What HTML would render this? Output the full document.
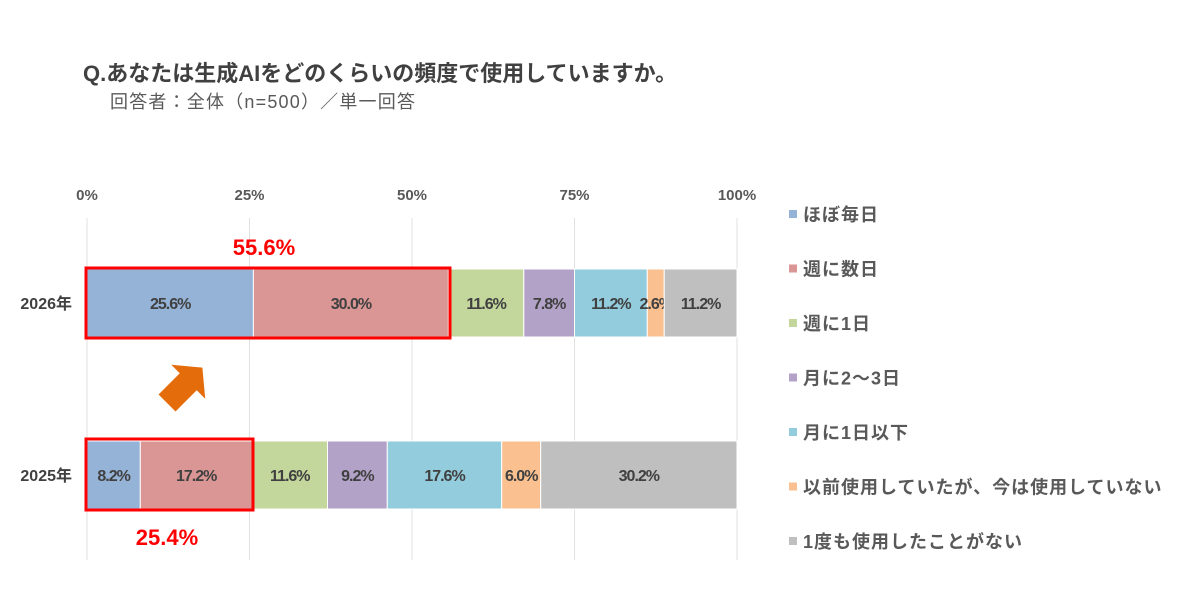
<!DOCTYPE html>
<html><head><meta charset="utf-8"><style>
body{margin:0;background:#fff;}
svg text{font-family:"Liberation Sans","Noto Sans CJK JP",sans-serif;}
</style></head><body>
<svg width="1200" height="600" viewBox="0 0 1200 600">
<text x="83" y="81" font-size="22" font-weight="bold" fill="#404040">Q.あなたは生成AIをどのくらいの頻度で使用していますか。</text>
<text x="110" y="108" font-size="18" letter-spacing="1.2" fill="#595959">回答者：全体（n=500）／単一回答</text>
<g id="grid"></g><g id="bars"></g><g id="legend"></g>
<rect x="86" y="268" width="364" height="70" fill="none" stroke="#f00" stroke-width="3"/>
<rect x="86" y="439" width="167" height="71" fill="none" stroke="#f00" stroke-width="3"/>
<text x="264" y="255" font-size="22" font-weight="bold" fill="#f00" text-anchor="middle">55.6%</text>
<text x="167" y="545" font-size="22" font-weight="bold" fill="#f00" text-anchor="middle">25.4%</text>
<polygon points="-24,-12 6,-12 6,-24 26,0 6,24 6,12 -24,12" fill="#e46c0a" transform="translate(184,386) rotate(-45)"/>
</svg>
<script>
const categories=["2026年","2025年"];
const seriesNames=["ほぼ毎日","週に数日","週に1日","月に2〜3日","月に1日以下","以前使用していたが、今は使用していない","1度も使用したことがない"];
const values2026=[25.6,30.0,11.6,7.8,11.2,2.6,11.2];
const values2025=[8.2,17.2,11.6,9.2,17.6,6.0,30.2];
const ticks=[0,25,50,75,100];
const colors=["#95b3d7","#d99694","#c3d69b","#b3a2c7","#93cddd","#fac090","#bfbfbf"];
const NS="http://www.w3.org/2000/svg";
const x=v=>87+v*6.5;
const rowY=[269,441],bh=68;
function mk(t,a,p){const e=document.createElementNS(NS,t);for(const k in a)e.setAttribute(k,a[k]);p.appendChild(e);return e;}
const grid=document.getElementById('grid');
ticks.forEach(t=>{
 const l=mk('line',{x1:x(t),x2:x(t),y1:218,y2:560,stroke:'#e0e0e0','stroke-width':1},grid);
 
 
 const tx=mk('text',{x:x(t),y:200,'font-size':15,'font-weight':'bold',fill:'#595959','text-anchor':'middle'},grid);
 tx.textContent=t+'%';
 
 
});
const bars=document.getElementById('bars');
[values2026,values2025].forEach((vals,r)=>{
 const c=mk('text',{x:72,y:rowY[r]+bh/2+6,'font-size':16,'font-weight':'bold',fill:'#404040','text-anchor':'end'},bars);
 c.textContent=categories[r];
 
 
 let acc=0;
 vals.forEach((v,i)=>{
  const rc=mk('rect',{x:x(acc),y:rowY[r],width:v*6.5,height:bh,fill:colors[i],stroke:'#fff','stroke-width':1},bars);
  
  
  const t=mk('text',{x:x(acc+v/2),y:rowY[r]+bh/2+6,'font-size':16,'font-weight':'bold','letter-spacing':-1,fill:'#404040','text-anchor':'middle'},bars);
  t.textContent=v.toFixed(1)+'%';
  
  
  acc+=v;
 });
});
const lg=document.getElementById('legend');
seriesNames.forEach((n,i)=>{
 const y=214+i*54.5;
 const s=mk('rect',{x:789,y:y-4,width:8,height:8,fill:colors[i]},lg);
 
 
 const t=mk('text',{x:803,y:y+7,'font-size':18,'letter-spacing':1,'font-weight':'bold',fill:'#595959'},lg);
 t.textContent=n;
 
 
});
</script>
</body></html>
